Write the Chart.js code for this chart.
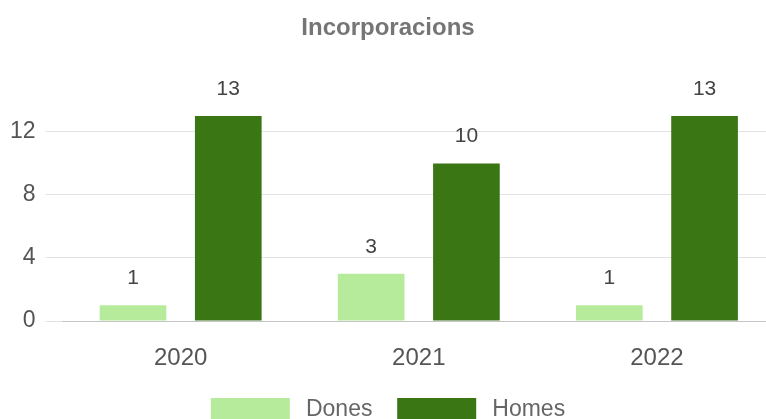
<!DOCTYPE html>
<html>
<head>
<meta charset="utf-8">
<script src="https://cdn.jsdelivr.net/npm/chart.js@4/dist/chart.umd.min.js"></script>
<style>
  html, body { margin: 0; padding: 0; background: #fff; overflow: hidden; }
  #wrap { width: 776px; height: 432px; }
</style>
</head>
<body>
<div id="wrap"><canvas id="myChart"></canvas></div>
<script>
const years = ['2020', '2021', '2022'];
const dones = [1, 3, 1];
const homes = [13, 10, 13];
const yTicks = [0, 4, 8, 12];

const fontFam = "'Liberation Sans', Arial, sans-serif";

// values written above every bar
const valueLabels = {
    id: 'valueLabels',
    afterDatasetsDraw(chart) {
        const ctx = chart.ctx;
        ctx.save();
        ctx.font = '21px ' + fontFam;
        ctx.fillStyle = '#444';
        ctx.textAlign = 'center';
        ctx.textBaseline = 'alphabetic';
        chart.data.datasets.forEach((ds, i) => {
            chart.getDatasetMeta(i).data.forEach((bar, j) => {
                ctx.fillText(ds.data[j], bar.x, bar.y - 21);
            });
        });
        ctx.restore();
    }
};

function createBars(context) {
    const chartInstance = new Chart(context, {
        type: 'bar',
        data: {
            labels: years,
            datasets: [{
                label: '\u2009Dones  ',
                backgroundColor: '#b7eb9c',
                data: dones
            }, {
                label: '\u2009Homes',
                backgroundColor: '#3a7614',
                data: homes
            }]
        },
        options: {
            responsive: true,
            maintainAspectRatio: false,
            animation: false,
            categoryPercentage: 0.8,
            barPercentage: 0.7,
            layout: { padding: 0 },
            plugins: {
                title: {
                    display: true,
                    text: 'Incorporacions',
                    color: '#757575',
                    font: { family: fontFam, size: 24, weight: 'bold' },
                    padding: { top: 14, bottom: 26 }
                },
                legend: {
                    position: 'bottom',
                    labels: {
                        boxWidth: 79,
                        boxHeight: 24,
                        color: '#666',
                        font: { family: fontFam, size: 23 },
                        padding: 12
                    }
                },
                tooltip: { enabled: false }
            },
            scales: {
                x: {
                    grid: { display: false },
                    border: { display: false },
                    afterFit(scale) { scale.height = 65; },
                    ticks: {
                        color: '#555',
                        font: { family: fontFam, size: 24 },
                        padding: 15
                    }
                },
                y: {
                    min: 0,
                    max: 16,
                    afterBuildTicks(axis) {
                        axis.ticks = yTicks.concat([16]).map(v => ({ value: v }));
                    },
                    border: { display: false },
                    grid: {
                        color: c => c.tick.value === 16 ? 'rgba(0,0,0,0)' : (c.tick.value === 0 ? '#c4c4c4' : '#e3e3e3'),
                        tickColor: c => c.tick.value === 16 ? 'rgba(0,0,0,0)' : '#e3e3e3',
                        tickLength: 16
                    },
                    ticks: {
                        color: '#555',
                        font: { family: fontFam, size: 23 },
                        padding: 10,
                        callback: v => v === 16 ? '' : v
                    }
                }
            }
        },
        plugins: [valueLabels]
    });
}

createBars('myChart');
</script>
</body>
</html>
